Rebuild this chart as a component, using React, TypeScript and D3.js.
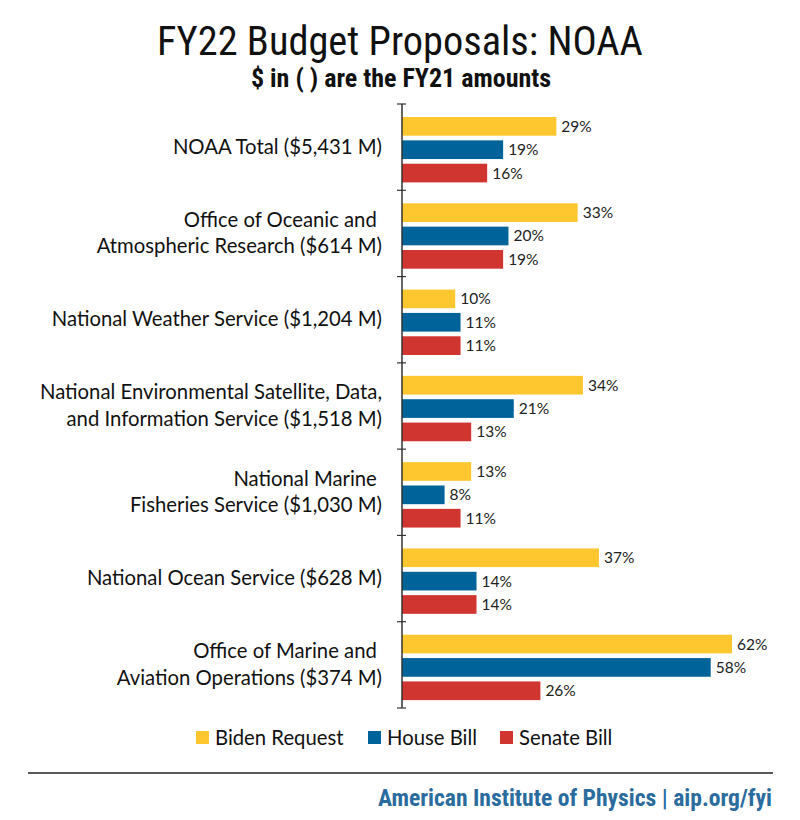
import React from "react";
import * as d3 from "d3";

const categories: string[][] = [
  ["NOAA Total ($5,431 M)"],
  ["Office of Oceanic and ", "Atmospheric Research ($614 M)"],
  ["National Weather Service ($1,204 M)"],
  ["National Environmental Satellite, Data,", "and Information Service ($1,518 M)"],
  ["National Marine ", "Fisheries Service ($1,030 M)"],
  ["National Ocean Service ($628 M)"],
  ["Office of Marine and ", "Aviation Operations ($374 M)"],
];
const seriesNames = ["Biden Request", "House Bill", "Senate Bill"];
const biden = [29, 33, 10, 34, 13, 37, 62];
const house = [19, 20, 11, 21, 8, 14, 58];
const senate = [16, 19, 11, 13, 11, 14, 26];
const colors = ["#FEC72F", "#00639A", "#D0352F"];

const W = 800;
const H = 820;
const x0 = 402;
const top = 104;
const bottom = 708;

export default function App() {
  const series = [biden, house, senate];
  const y = d3.scaleBand<number>().domain(d3.range(categories.length)).range([top, bottom]);
  const x = d3.scaleLinear().domain([0, 62]).range([x0, 732]);
  const inner = d3.scaleBand<number>().domain([0, 1, 2]).range([13, 13 + 3 * 21.8]).paddingInner(0.2);
  const labelFont = "Lato, 'Open Sans', sans-serif";
  const titleFont = "'Liberation Sans Narrow', 'Roboto', sans-serif";
  const cond = { fontStretch: "condensed" } as React.CSSProperties;
  const ticks = d3.range(categories.length + 1).map((i) => top + i * y.step());
  return (
    <svg width={W} height={H} style={{ position: "absolute", left: 0, top: 0, background: "#fff" }}>
      <rect width={W} height={H} fill="#fff" />
      <text x={400} y={55} textAnchor="middle" fontFamily={titleFont} fontSize={40.4} fill="#111" style={cond}>
        FY22 Budget Proposals: NOAA
      </text>
      <text x={401} y={87} textAnchor="middle" fontFamily={titleFont} fontWeight="bold" fontSize={26} fill="#111" style={cond}>
        $ in ( ) are the FY21 amounts
      </text>
      {categories.map((lines, i) => {
        const cy = (y(i) as number) + y.bandwidth() / 2;
        return (
          <g key={i}>
            {lines.map((l, j) => (
              <text key={j} x={382} y={cy + (j - (lines.length - 1) / 2) * 26.5 + 6.5} textAnchor="end" fontFamily={labelFont} fontSize={20.3} fill="#111" style={{ whiteSpace: "pre" }}>
                {l}
              </text>
            ))}
            {series.map((s, k) => {
              const by = (y(i) as number) + (inner(k) as number);
              return (
                <g key={k}>
                  <rect x={x(0)} y={by} width={x(s[i]) - x(0)} height={inner.bandwidth()} fill={colors[k]} />
                  <text x={x(s[i]) + 5} y={by + inner.bandwidth() / 2 + 5.5} fontFamily={labelFont} fontSize={15.5} fill="#222">
                    {s[i]}%
                  </text>
                </g>
              );
            })}
          </g>
        );
      })}
      <line x1={x0} x2={x0} y1={top} y2={bottom} stroke="#333" strokeWidth={1.5} />
      {ticks.map((t, i) => (
        <line key={i} x1={x0 - 5} x2={x0 + 4} y1={t} y2={t} stroke="#333" strokeWidth={1.2} />
      ))}
      {seriesNames.map((n, k) => {
        const lx = [196, 368, 500][k];
        return (
          <g key={n}>
            <rect x={lx} y={731} width={13} height={13} fill={colors[k]} />
            <text x={lx + 19} y={745} fontFamily={labelFont} fontSize={20.3} fill="#111">
              {n}
            </text>
          </g>
        );
      })}
      <line x1={28} x2={773} y1={773} y2={773} stroke="#222" strokeWidth={1.5} />
      <text x={772} y={806} textAnchor="end" fontFamily={titleFont} fontWeight="bold" fontSize={23.6} fill="#2A6C9E" style={cond}>
        American Institute of Physics  |  aip.org/fyi
      </text>
    </svg>
  );
}
